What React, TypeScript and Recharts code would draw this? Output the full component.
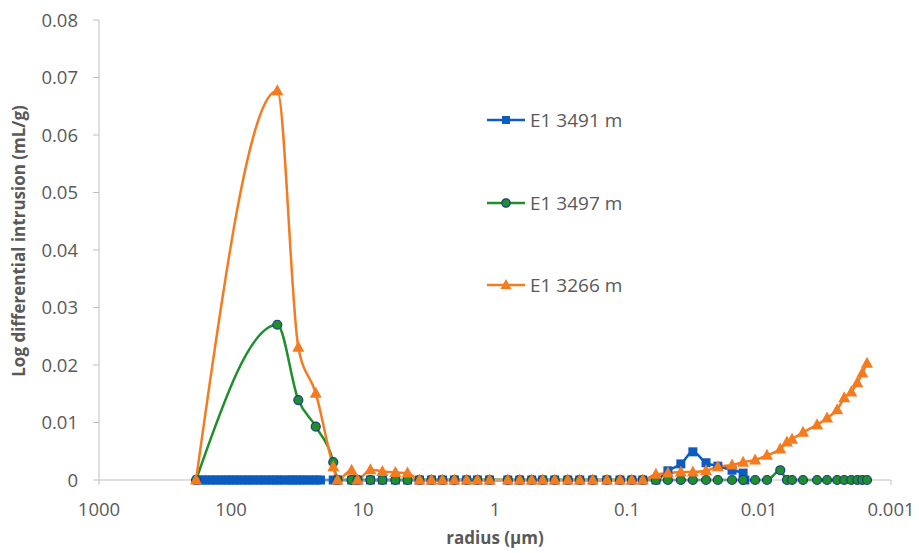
import { LineChart, Line, XAxis, YAxis, Legend, Label } from "recharts";

const FONT = "'Open Sans', 'Liberation Sans', sans-serif";
const TEXT = "#595959";
const AXIS = "#BFBFBF";

const BLUE = "#0B5BC0";
const GREEN = "#1E8F2A";
const GREEN_EDGE = "#1F3A8A";
const ORANGE = "#F47B20";

const X_TICKS = [1000, 100, 10, 1, 0.1, 0.01, 0.001];
const Y_TICKS = [0, 0.01, 0.02, 0.03, 0.04, 0.05, 0.06, 0.07, 0.08];

// radius (µm) shared by E1 3497 m and E1 3266 m
const sharedRadius = [
  184, 44.6, 30.9, 22.8, 16.8, 15.6, 12.2, 11.0, 8.79, 7.13, 5.68, 4.6, 3.73, 3.03, 2.5, 2.03, 1.64, 1.36,
  1.1, 0.8, 0.65, 0.527, 0.435, 0.353, 0.281, 0.228, 0.182, 0.142, 0.113, 0.092, 0.076, 0.0604, 0.049,
  0.0391, 0.0317, 0.0252, 0.0205, 0.016, 0.0132, 0.0107, 0.0087, 0.0069, 0.00614, 0.00562, 0.00464,
  0.00363, 0.00305, 0.00256, 0.00226, 0.002, 0.0018, 0.00165, 0.00152,
];

const orangeValues = [
  0, 0.0677, 0.0231, 0.0151, 0.0023, 0, 0.0017, 0, 0.0018, 0.0015, 0.0013, 0.0012, 0, 0, 0, 0, 0, 0,
  0, 0, 0, 0, 0, 0, 0, 0, 0, 0, 0, 0, 0, 0.001, 0.0012,
  0.0014, 0.0014, 0.0016, 0.0023, 0.0026, 0.0031, 0.0035, 0.0043, 0.0054, 0.0066, 0.0071, 0.0083,
  0.0096, 0.0108, 0.0122, 0.0143, 0.0153, 0.0169, 0.0186, 0.0203,
];

const greenValues = [
  0, 0.027, 0.0139, 0.0093, 0.0031, 0, 0, 0, 0, 0, 0, 0, 0, 0, 0, 0, 0, 0,
  0, 0, 0, 0, 0, 0, 0, 0, 0, 0, 0, 0, 0, 0, 0,
  0, 0, 0, 0, 0, 0, 0, 0, 0.0017, 0, 0, 0,
  0, 0, 0, 0, 0, 0, 0, 0,
];

// E1 3491 m has a denser set of readings at the coarse end
const blueRadius = [
  180, 168, 157, 146, 136, 127, 118, 110, 103, 96, 90, 84, 78, 73, 68, 63, 59, 55, 51, 48, 45, 42, 39, 36,
  34, 32, 30, 28, 26, 24, 22.5, 21,
  16.8, 15.6, 12.2, 11.0, 8.79, 7.13, 5.68, 4.6, 3.73, 3.03, 2.5, 2.03, 1.64, 1.36, 1.1, 0.8, 0.65, 0.527,
  0.435, 0.353, 0.281, 0.228, 0.182, 0.142, 0.113, 0.092, 0.076, 0.0604, 0.049, 0.0391, 0.0317, 0.0252,
  0.0205, 0.016, 0.0132, 0.0128,
];

const blueValues = [
  0, 0, 0, 0, 0, 0, 0, 0, 0, 0, 0, 0, 0, 0, 0, 0, 0, 0, 0, 0, 0, 0, 0, 0,
  0, 0, 0, 0, 0, 0, 0, 0,
  0, 0, 0, 0, 0, 0, 0, 0, 0, 0, 0, 0, 0, 0, 0, 0, 0, 0,
  0, 0, 0, 0, 0, 0, 0, 0, 0, 0, 0.0016, 0.0028, 0.0049, 0.003,
  0.0024, 0.0017, 0.0012, 0,
];

const zip = (rs: number[], vs: number[]) => rs.map((r, i) => ({ r, v: vs[i] }));

const blueData = zip(blueRadius, blueValues);
const greenData = zip(sharedRadius, greenValues);
const orangeData = zip(sharedRadius, orangeValues);

const Square = (props: any) => (
  <rect key={`sq-${props.index}`} x={props.cx - 4.5} y={props.cy - 4.5} width={9} height={9} fill={BLUE} />
);

const Circle = (props: any) => (
  <circle key={`ci-${props.index}`} cx={props.cx} cy={props.cy} r={4.5} fill={GREEN} stroke={GREEN_EDGE} strokeWidth={1.2} />
);

const Triangle = (props: any) => (
  <polygon
    key={`tr-${props.index}`}
    points={`${props.cx},${props.cy - 6.5} ${props.cx - 6},${props.cy + 4.5} ${props.cx + 6},${props.cy + 4.5}`}
    fill={ORANGE}
  />
);

const SERIES = [
  { name: "E1 3491 m", color: BLUE, marker: "square" },
  { name: "E1 3497 m", color: GREEN, marker: "circle" },
  { name: "E1 3266 m", color: ORANGE, marker: "triangle" },
];

const renderLegend = () => (
  <div style={{ fontFamily: FONT, fontSize: 19, color: TEXT }}>
    {SERIES.map((s, i) => (
      <div key={s.name} style={{ display: "flex", alignItems: "center", height: 20, marginBottom: i < 2 ? 62.5 : 0 }}>
        <svg width={40} height={20}>
          <line x1={1} y1={10} x2={39} y2={10} stroke={s.color} strokeWidth={2.5} />
          {s.marker === "square" && <rect x={16} y={6} width={8} height={8} fill={BLUE} />}
          {s.marker === "circle" && <circle cx={20} cy={10} r={4.2} fill={GREEN} stroke={GREEN_EDGE} strokeWidth={1.2} />}
          {s.marker === "triangle" && <polygon points="20,4 14.5,14 25.5,14" fill={ORANGE} />}
        </svg>
        <span style={{ marginLeft: 4, whiteSpace: "nowrap" }}>{s.name}</span>
      </div>
    ))}
  </div>
);

export default function App() {
  return (
    <div style={{ position: "absolute", left: 0, top: 0, background: "#fff", fontFamily: FONT }}>
      <LineChart width={919} height={553} margin={{ top: 20, right: 28, bottom: 0, left: 0 }}>
        <XAxis
          dataKey="r"
          type="number"
          scale="log"
          domain={[0.001, 1000]}
          reversed
          ticks={X_TICKS}
          allowDuplicatedCategory={false}
          height={73}
          stroke={AXIS}
          tickSize={5}
          tickMargin={18}
          tick={{ fill: TEXT, fontSize: 18.5, fontFamily: FONT }}
          tickFormatter={(v: number) => String(v)}
        >
          <Label
            value="radius (µm)"
            position="insideBottom"
            offset={9}
            style={{ fill: TEXT, fontSize: 17, fontWeight: 700, fontFamily: FONT }}
          />
        </XAxis>
        <YAxis
          type="number"
          domain={[0, 0.08]}
          ticks={Y_TICKS}
          width={99}
          stroke={AXIS}
          tickSize={6}
          tickMargin={15}
          tick={{ fill: TEXT, fontSize: 18.5, fontFamily: FONT }}
          tickFormatter={(v: number) => String(v)}
        >
          <Label
            content={() => (
              <text
                x={18}
                y={241}
                transform="rotate(-90 18 241)"
                textAnchor="middle"
                dominantBaseline="central"
                style={{ fill: TEXT, fontSize: 17, fontWeight: 700, fontFamily: FONT }}
              >
                Log differential intrusion (mL/g)
              </text>
            )}
          />
        </YAxis>
        <Legend
          layout="vertical"
          align="center"
          verticalAlign="middle"
          content={renderLegend}
          wrapperStyle={{ position: "absolute", top: 110, left: 486, width: 200, height: 250 }}
        />
        <Line
          data={blueData}
          dataKey="v"
          name="E1 3491 m"
          type="monotone"
          stroke={BLUE}
          strokeWidth={2.5}
          dot={Square}
          activeDot={false}
          isAnimationActive={false}
        />
        <Line
          data={greenData}
          dataKey="v"
          name="E1 3497 m"
          type="monotone"
          stroke={GREEN}
          strokeWidth={2.5}
          dot={Circle}
          activeDot={false}
          isAnimationActive={false}
        />
        <Line
          data={orangeData}
          dataKey="v"
          name="E1 3266 m"
          type="monotone"
          stroke={ORANGE}
          strokeWidth={2.5}
          dot={Triangle}
          activeDot={false}
          isAnimationActive={false}
        />
      </LineChart>
    </div>
  );
}
